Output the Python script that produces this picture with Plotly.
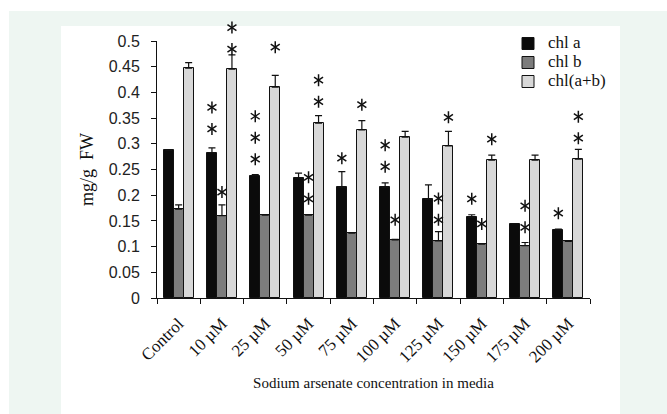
import plotly.graph_objects as go

categories = ["Control", "10 µM", "25 µM", "50 µM", "75 µM", "100 µM",
              "125 µM", "150 µM", "175 µM", "200 µM"]
series_names = ["chl a", "chl b", "chl(a+b)"]

chl_a = [0.287, 0.283, 0.238, 0.233, 0.215, 0.215, 0.192, 0.157, 0.144, 0.132]
chl_a_err = [0.0, 0.009, 0.002, 0.010, 0.031, 0.009, 0.028, 0.005, 0.0, 0.002]
chl_b = [0.173, 0.160, 0.161, 0.161, 0.126, 0.113, 0.111, 0.105, 0.102, 0.110]
chl_b_err = [0.008, 0.021, 0.001, 0.001, 0.001, 0.001, 0.018, 0.001, 0.006, 0.001]
chl_ab = [0.447, 0.445, 0.410, 0.340, 0.327, 0.313, 0.296, 0.268, 0.268, 0.270]
chl_ab_err = [0.011, 0.028, 0.023, 0.015, 0.018, 0.011, 0.028, 0.010, 0.010, 0.019]

# significance stars: count and level of the lowest star (mg/g FW)
stars_a = [0, 2, 3, 0, 1, 2, 0, 1, 0, 1]
stars_a_y = [0, 0.329, 0.270, 0, 0.272, 0.2555, 0, 0.193, 0, 0.165]
stars_b = [0, 1, 0, 2, 0, 1, 2, 1, 2, 0]
stars_b_y = [0, 0.206, 0, 0.193, 0, 0.152, 0.152, 0.144, 0.1375, 0]
stars_ab = [0, 2, 1, 2, 1, 0, 1, 1, 0, 2]
stars_ab_y = [0, 0.4844, 0.488, 0.382, 0.376, 0, 0.3516, 0.309, 0, 0.311]
star_step = 0.0418

y_ticks = [0, 0.05, 0.1, 0.15, 0.2, 0.25, 0.3, 0.35, 0.4, 0.45, 0.5]
y_ticktext = ["0", "0.05", "0.1", "0.15", "0.2", "0.25", "0.3", "0.35", "0.4", "0.45", "0.5"]
y_max = 0.5

colors = ["#0b0b0b", "#7c7c7c", "#d8d8d8"]
bar_w = 0.231
offsets = [-bar_w, 0.0, bar_w]
values = [chl_a, chl_b, chl_ab]
errors = [chl_a_err, chl_b_err, chl_ab_err]
stars = [(stars_a, stars_a_y), (stars_b, stars_b_y), (stars_ab, stars_ab_y)]

serif = "Liberation Serif, Times New Roman, serif"
sans = "Liberation Sans, Arial, sans-serif"

W, H = 667, 414
L, R, T, B = 157, 77, 15, 116
pw, ph = W - L - R, H - T - B
axis_px = 257                     # pixel height of the 0..0.5 axis
dom_top = axis_px / ph            # main axis domain
y2_max = y_max * ph / axis_px     # same scale on the overlay axis for the stars

def px(x):
    return (x - L) / pw

def py(y):
    return (H - B - y) / ph

fig = go.Figure()
idx = list(range(len(categories)))
for j in range(3):
    fig.add_trace(go.Bar(
        x=[i + offsets[j] for i in idx], y=values[j], width=bar_w,
        name='<span style="font-size:17px">%s</span>' % series_names[j],
        marker=dict(color=colors[j], line=dict(color="#111111", width=1)),
        error_y=dict(type="data", symmetric=False, array=errors[j],
                     arrayminus=[0] * len(idx), color="#111111",
                     thickness=1.2, width=3.5),
    ))

sx, sy = [], []
for j, (cnt, base) in enumerate(stars):
    for i in idx:
        for k in range(cnt[i]):
            sx.append(i + offsets[j])
            sy.append(base[i] + k * star_step)
for sym in ("y-up-open", "y-down-open"):
    fig.add_trace(go.Scatter(
        x=sx, y=sy, mode="markers", showlegend=False, hoverinfo="skip",
        yaxis="y2",
        marker=dict(symbol=sym, size=7.5, color="#111111",
                    line=dict(color="#111111", width=1.5))))

shapes = [
    dict(type="rect", xref="paper", yref="paper", x0=px(9), x1=px(680),
         y0=py(430), y1=py(11), fillcolor="#eef6f2", line=dict(width=0), layer="below"),
    dict(type="rect", xref="paper", yref="paper", x0=px(61), x1=px(620),
         y0=py(430), y1=py(26), fillcolor="#ffffff", line=dict(width=0), layer="below"),
]

fig.update_layout(
    width=W, height=H,
    margin=dict(l=L, r=R, t=T, b=B, autoexpand=False),
    paper_bgcolor="#ffffff", plot_bgcolor="rgba(0,0,0,0)",
    showlegend=True,
    legend=dict(x=px(508), y=py(29), xanchor="left", yanchor="top",
                bgcolor="rgba(0,0,0,0)", font=dict(family=serif, size=11.5, color="#111"),
                itemclick=False),
    shapes=shapes,
    bargap=0,
    xaxis=dict(range=[-0.5, len(categories) - 0.5], tickvals=idx, ticktext=categories,
               tickangle=-45, ticks="", showline=True, linecolor="#111", linewidth=1,
               showgrid=False, zeroline=False, ticklabelstandoff=8, anchor="y",
               automargin=False,
               tickfont=dict(family=serif, size=17, color="#111"),
               minor=dict(tickvals=[i - 0.5 for i in range(len(categories) + 1)],
                          ticks="outside", ticklen=5, tickcolor="#111", showgrid=False),
               title=dict(text="Sodium arsenate concentration in media",
                          font=dict(family=serif, size=15, color="#111"), standoff=12)),
    yaxis=dict(range=[0, y_max], domain=[0, dom_top], tickvals=y_ticks, ticktext=y_ticktext,
               ticks="outside", ticklen=5, tickcolor="#111", showline=True,
               linecolor="#111", linewidth=1, showgrid=False, zeroline=False,
               automargin=False,
               tickfont=dict(family=sans, size=16, color="#222"),
               ticklabelstandoff=8,
               title=dict(text="mg/g&nbsp;&nbsp;FW", font=dict(family=serif, size=18, color="#111"),
                          standoff=10)),
    yaxis2=dict(range=[0, y2_max], domain=[0, 1], anchor="x", visible=False,
                automargin=False, showgrid=False, zeroline=False),
)

fig.write_html("out.html")
